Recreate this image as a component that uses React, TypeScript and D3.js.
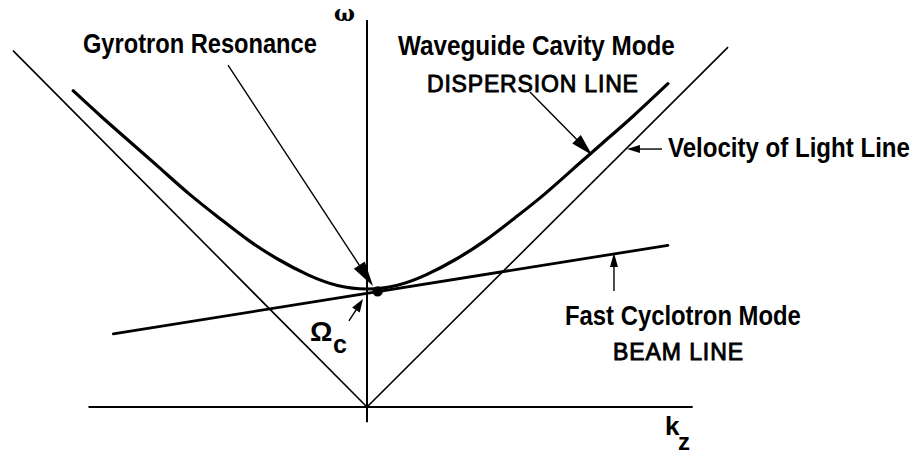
import React, { useLayoutEffect, useRef, useState } from "react";
import * as d3 from "d3";

// Axes extents (k in units of Ωc/c, ω in units of Ωc)
const kAxis: [number, number] = [-2.36, 2.76];
const wAxis: [number, number] = [-0.13, 3.28];

// Velocity-of-light lines ω = ±c k
const lightLeft: [number, number][] = [[-3.0, 3.02], [0, 0]];
const lightRight: [number, number][] = [[0, 0], [3.06, 3.05]];

// Waveguide cavity mode dispersion curve
const dispK = [-2.49, -2.25, -2, -1.75, -1.5, -1.25, -1, -0.75, -0.5, -0.25, 0, 0.25, 0.5, 0.75, 1, 1.25, 1.5, 1.75, 2, 2.25, 2.55];
const dispW = [2.68, 2.46, 2.24, 2.02, 1.8, 1.6, 1.41, 1.25, 1.12, 1.03, 1.0, 1.03, 1.12, 1.25, 1.41, 1.6, 1.8, 2.02, 2.24, 2.46, 2.74];

// Fast cyclotron mode beam line
const beamK = [-2.15, 2.55];
const beamW = [0.62, 1.37];

// Gyrotron resonance point
const resonance: [number, number] = [0.09, 0.98];

// Annotation arrows: [tailK, tailW, tipK, tipW, headLen, headHalfWidth]
const arrows: [number, number, number, number, number, number][] = [
  [-1.178, 2.898, 0.051, 1.025, 25, 6.5],
  [1.381, 2.669, 1.907, 2.136, 22, 6],
  [2.5, 2.186, 2.203, 2.186, 13, 4],
  [2.093, 0.983, 2.093, 1.305, 14, 4],
  [-0.153, 0.729, -0.034, 0.915, 13, 4.5],
];

// Labels
const labelText = ["Gyrotron Resonance", "Waveguide Cavity Mode", "DISPERSION LINE", "Velocity of Light Line", "Fast Cyclotron Mode", "BEAM LINE"];
const labelK = [-2.407, 0.263, 0.508, 2.551, 1.678, 2.085];
const labelW = [3.0, 2.983, 2.669, 2.119, 0.695, 0.398];
const labelWidth = [234, 277, 211, 242, 236, 130];
const labelCaps = [false, false, true, false, false, true];

const x = d3.scaleLinear().domain([-3, 3]).range([13, 721]);
const y = d3.scaleLinear().domain([0, 3]).range([407, 53]);

const sansW = "'Liberation Sans', Arial, sans-serif";

function FitText(props: { x: number; y: number; width: number; size: number; text: string }) {
  const ref = useRef<SVGTextElement>(null);
  const [sx, setSx] = useState(1);
  useLayoutEffect(() => {
    if (ref.current) {
      const w = ref.current.getComputedTextLength();
      if (w > 0) setSx(props.width / w);
    }
  }, [props.width, props.text, props.size]);
  return (
    <g transform={`translate(${props.x},${props.y}) scale(${sx},1)`}>
      <text ref={ref} x={0} y={0} fontFamily={sansW} fontWeight="bold" fontSize={props.size} fill="#000">
        {props.text}
      </text>
    </g>
  );
}

export default function App() {
  const line = d3.line<[number, number]>().x((d) => x(d[0])).y((d) => y(d[1]));
  const curve = d3
    .line<[number, number]>()
    .x((d) => x(d[0]))
    .y((d) => y(d[1]))
    .curve(d3.curveNatural);
  const dispPts: [number, number][] = dispK.map((k, i) => [k, dispW[i]]);
  const beamPts: [number, number][] = beamK.map((k, i) => [k, beamW[i]]);

  return (
    <svg width={922} height={454} style={{ position: "absolute", left: 0, top: 0, background: "#fff" }}>
      {/* axes */}
      <line x1={x(kAxis[0])} x2={x(kAxis[1])} y1={y(0)} y2={y(0)} stroke="#000" strokeWidth={2} />
      <line x1={x(0)} x2={x(0)} y1={y(wAxis[0])} y2={y(wAxis[1])} stroke="#000" strokeWidth={2} />
      {/* light lines */}
      <path d={line(lightLeft) || ""} fill="none" stroke="#000" strokeWidth={1.6} />
      <path d={line(lightRight) || ""} fill="none" stroke="#000" strokeWidth={1.6} />
      {/* dispersion */}
      <path d={curve(dispPts) || ""} fill="none" stroke="#000" strokeWidth={3.2} strokeLinecap="round" />
      {/* beam line */}
      <path d={line(beamPts) || ""} fill="none" stroke="#000" strokeWidth={2.8} strokeLinecap="round" />
      <circle cx={x(resonance[0])} cy={y(resonance[1])} r={5.2} fill="#000" />
      {/* arrows */}
      {arrows.map((a, i) => {
        const x0 = x(a[0]), y0 = y(a[1]), x1 = x(a[2]), y1 = y(a[3]);
        const dx = x1 - x0, dy = y1 - y0;
        const len = Math.hypot(dx, dy);
        const ux = dx / len, uy = dy / len;
        const bx = x1 - ux * a[4], by = y1 - uy * a[4];
        const px = -uy * a[5], py = ux * a[5];
        return (
          <g key={i}>
            <line x1={x0} y1={y0} x2={bx + ux * 2} y2={by + uy * 2} stroke="#000" strokeWidth={1.4} />
            <polygon points={`${x1},${y1} ${bx + px},${by + py} ${bx - px},${by - py}`} fill="#000" />
          </g>
        );
      })}
      {/* labels */}
      {labelText.map((t, i) =>
        labelCaps[i] ? (
          <text
            key={t}
            x={x(labelK[i])}
            y={y(labelW[i])}
            fontFamily={sansW}
            fontSize={23}
            stroke="#000"
            strokeWidth={0.9}
            textLength={labelWidth[i]}
            lengthAdjust="spacing"
            fill="#000"
          >
            {t}
          </text>
        ) : (
          <FitText key={t} x={x(labelK[i])} y={y(labelW[i])} width={labelWidth[i]} size={28} text={t} />
        )
      )}
      {/* Ωc */}
      <text x={x(-0.483)} y={y(0.559)} fontFamily={sansW} fontWeight="bold" fontSize={28}>Ω</text>
      <text x={x(-0.288)} y={y(0.458)} fontFamily={sansW} fontWeight="bold" fontSize={25}>c</text>
      {/* kz */}
      <text x={x(2.525)} y={y(-0.237)} fontFamily={sansW} fontWeight="bold" fontSize={26}>k</text>
      <text x={x(2.636)} y={y(-0.364)} fontFamily={sansW} fontWeight="bold" fontSize={24}>z</text>
      {/* ω */}
      <text x={x(-0.28)} y={y(3.27)} fontFamily="'DejaVu Serif', 'Liberation Serif', serif" fontWeight="bold" fontSize={22}>ω</text>
    </svg>
  );
}
